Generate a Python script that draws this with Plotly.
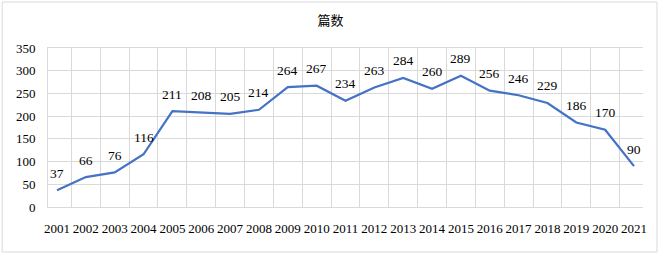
import plotly.graph_objects as go

years = [str(y) for y in range(2001, 2022)]
counts = [37, 66, 76, 116, 211, 208, 205, 214, 264, 267, 234, 263, 284, 260, 289, 256, 246, 229, 186, 170, 90]
y_ticks = [0, 50, 100, 150, 200, 250, 300, 350]
title_text = "篇数"

FONT = "Liberation Serif"

fig = go.Figure(go.Scatter(
    x=years, y=counts, mode="lines",
    line=dict(color="#4472C4", width=2.25),
    hoverinfo="skip",
))

annotations = [
    dict(x=i, y=v, xref="x", yref="y", text=str(v), showarrow=False,
         yshift=17, font=dict(family=FONT, size=13.5, color="#000000"))
    for i, v in enumerate(counts)
]

fig.update_layout(
    width=661, height=255,
    margin=dict(l=48, r=18, t=48, b=48),
    paper_bgcolor="white", plot_bgcolor="white",
    showlegend=False,
    title=dict(text=title_text, x=0.5, xanchor="center", y=0.92, yanchor="middle",
               font=dict(family="Noto Sans CJK SC", size=13, color="#000000")),
    font=dict(family=FONT, size=13, color="#000000"),
    annotations=annotations,
    xaxis=dict(type="category", tickson="boundaries", showgrid=True, gridcolor="#D9D9D9",
               gridwidth=1, showline=True, linecolor="#D9D9D9", ticks="", tickangle=0,
               ticklabelstandoff=9,
               tickfont=dict(family=FONT, size=13, color="#000000"), mirror=True),
    yaxis=dict(range=[0, 350], tickvals=y_ticks, showgrid=True, gridcolor="#D9D9D9",
               gridwidth=1, zeroline=False, showline=True, linecolor="#D9D9D9", ticks="",
               ticklabelstandoff=9, tickfont=dict(family=FONT, size=13, color="#000000")),
    shapes=[dict(type="rect", xref="paper", yref="paper", x0=-0.077, x1=1.0235, y0=-0.283, y1=1.289,
                 line=dict(color="#D9D9D9", width=1), layer="below")],
)

fig.write_html("out.html", config={"displayModeBar": False, "staticPlot": True},
               post_script="document.body.style.margin='0';")
